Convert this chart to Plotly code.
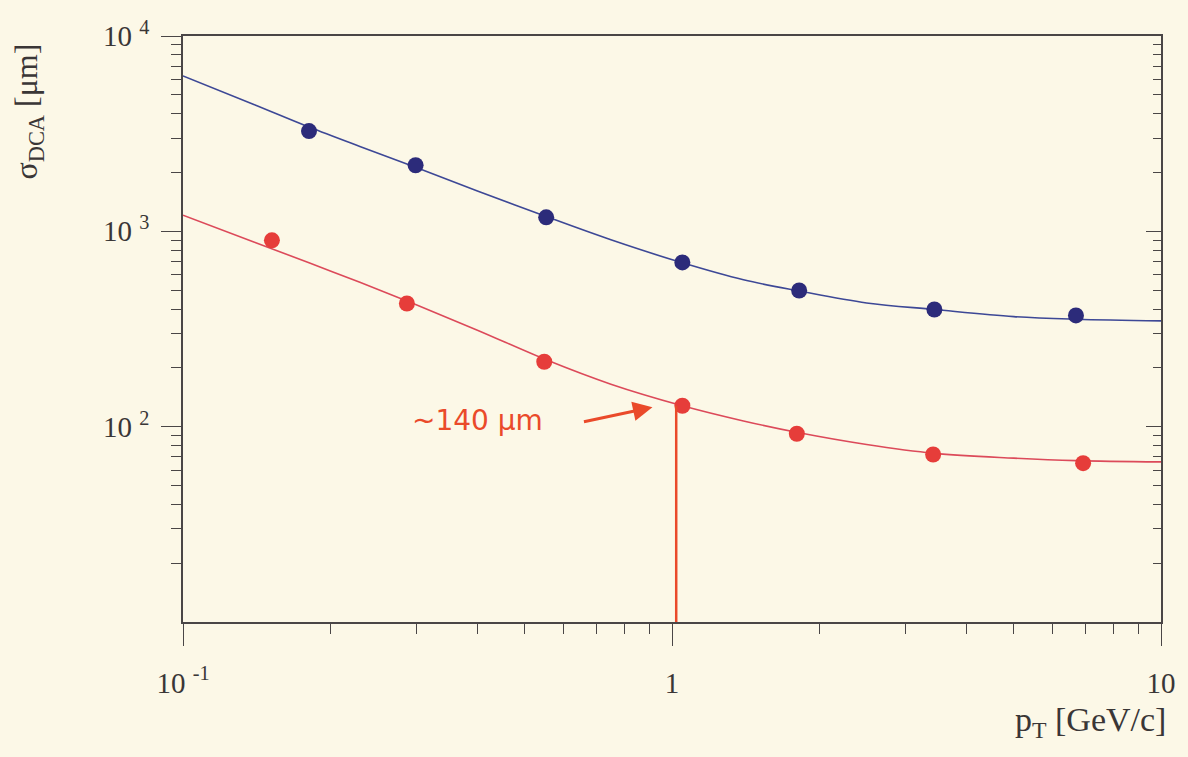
import plotly.graph_objects as go

# ---- data ----
pt_blue = [0.181, 0.299, 0.553, 1.05, 1.82, 3.44, 6.7]
sigma_blue = [3260, 2180, 1180, 693, 498, 398, 371]

pt_red = [0.152, 0.287, 0.548, 1.05, 1.80, 3.42, 6.93]
sigma_red = [899, 427, 215, 128, 92, 72, 65]

curve_pt = [0.1, 0.14, 0.181, 0.23, 0.299, 0.4, 0.553, 0.75, 1.05, 1.4, 1.82, 2.5, 3.44, 5.0, 6.7, 10.0]
curve_blue = [6250, 4450, 3420, 2720, 2130, 1610, 1190, 905, 690, 565, 495, 430, 398, 366, 355, 348]
curve_red = [1210, 880, 690, 548, 422, 312, 220, 165, 128, 107, 93, 81, 73, 69, 67, 66]

note_text = "~140 μm"
note_pt = 1.02          # hand-drawn vertical marker position
note_sigma = 128        # value pointed at

x_major = [0.1, 1, 10]
x_major_text = ["10 <sup>-1</sup>", "1", "10"]
x_minor = [0.2, 0.3, 0.4, 0.5, 0.6, 0.7, 0.8, 0.9, 2, 3, 4, 5, 6, 7, 8, 9]
y_major = [100, 1000, 10000]
y_major_text = ["10 <sup>2</sup>", "10 <sup>3</sup>", "10 <sup>4</sup>"]
y_minor = [20, 30, 40, 50, 60, 70, 80, 90, 200, 300, 400, 500, 600, 700, 800, 900,
           2000, 3000, 4000, 5000, 6000, 7000, 8000, 9000]

BG = "#fcf8e7"
AX = "#4a4646"
SERIF = "Liberation Serif"
BLUE_LINE = "#3d4896"
BLUE_DOT = "#2c2b7a"
RED_LINE = "#dc4a5a"
RED_DOT = "#e63d3a"
INK = "#ea4a2a"
TXT = "#3a3636"

fig = go.Figure()

fig.add_trace(go.Scatter(x=curve_pt, y=curve_blue, mode="lines",
                         line=dict(color=BLUE_LINE, width=1.6, shape="spline", smoothing=1.0),
                         hoverinfo="skip", showlegend=False))
fig.add_trace(go.Scatter(x=curve_pt, y=curve_red, mode="lines",
                         line=dict(color=RED_LINE, width=1.6, shape="spline", smoothing=1.0),
                         hoverinfo="skip", showlegend=False))
fig.add_trace(go.Scatter(x=pt_blue, y=sigma_blue, mode="markers",
                         marker=dict(color=BLUE_DOT, size=16), showlegend=False))
fig.add_trace(go.Scatter(x=pt_red, y=sigma_red, mode="markers",
                         marker=dict(color=RED_DOT, size=16), showlegend=False))
# vertical hand-drawn line
fig.add_trace(go.Scatter(x=[note_pt, note_pt], y=[10, note_sigma], mode="lines",
                         line=dict(color=INK, width=2.5), hoverinfo="skip", showlegend=False))
# invisible trace to activate right-hand axis
fig.add_trace(go.Scatter(x=curve_pt, y=curve_blue, mode="lines", yaxis="y2",
                         line=dict(color="rgba(0,0,0,0)"), hoverinfo="skip", showlegend=False))

fig.update_layout(
    width=1188, height=757,
    margin=dict(l=183, r=22, t=36, b=135),
    paper_bgcolor=BG, plot_bgcolor=BG,
    font=dict(family=SERIF, color=TXT, size=28),
    xaxis=dict(type="log", range=[-1, 1], showgrid=False, zeroline=False,
               showline=True, linecolor=AX, linewidth=1.5, mirror=True,
               tickvals=x_major, ticktext=x_major_text, ticks="outside",
               ticklen=22, tickwidth=1.3, tickcolor=AX, ticklabelstandoff=12,
               tickfont=dict(family=SERIF, size=29, color=TXT),
               minor=dict(tickvals=x_minor, ticks="outside", ticklen=10,
                          tickwidth=1.2, tickcolor=AX, showgrid=False)),
    yaxis=dict(type="log", range=[1, 4], showgrid=False, zeroline=False,
               showline=True, linecolor=AX, linewidth=1.5, mirror=True,
               tickvals=y_major, ticktext=y_major_text, ticks="outside",
               ticklen=20, tickwidth=1.3, tickcolor=AX, ticklabelstandoff=6,
               tickfont=dict(family=SERIF, size=29, color=TXT),
               minor=dict(tickvals=y_minor, ticks="outside", ticklen=10,
                          tickwidth=1.2, tickcolor=AX, showgrid=False)),
    yaxis2=dict(type="log", range=[1, 4], overlaying="y", side="right",
                showgrid=False, zeroline=False, showline=False,
                tickvals=y_major, ticks="inside", ticklen=15, tickwidth=1.3,
                tickcolor=AX, showticklabels=False,
                minor=dict(tickvals=y_minor, ticks="inside", ticklen=8,
                           tickwidth=1.2, tickcolor=AX, showgrid=False)),
)

fig.add_annotation(text="σ<sub>DCA</sub> [μm]", xref="paper", yref="paper",
                   x=-0.158, y=0.872, xanchor="center", yanchor="middle",
                   textangle=-90, showarrow=False,
                   font=dict(family=SERIF, size=32, color=TXT))
fig.add_annotation(text="p<sub>T</sub> [GeV/c]", xref="paper", yref="paper",
                   x=0.928, y=-0.171, xanchor="center", yanchor="middle",
                   showarrow=False,
                   font=dict(family=SERIF, size=34, color=TXT))

# handwritten note with arrow
fig.add_annotation(text=note_text, x=-0.398, y=2.03, xref="x", yref="y",
                   xanchor="center", yanchor="middle", showarrow=False,
                   font=dict(family="DejaVu Sans", size=28, color=INK))
fig.add_annotation(text="", x=-0.04, y=2.1, xref="x", yref="y",
                   ax=-70, ay=15, showarrow=True, arrowhead=2, arrowsize=1.3,
                   arrowwidth=3, arrowcolor=INK)

fig.write_html(
    "out.html",
    config={"displayModeBar": False},
    post_script="document.body.style.margin='0';"
                "document.body.style.overflow='hidden';"
                "document.body.style.background='#fcf8e7';",
)
